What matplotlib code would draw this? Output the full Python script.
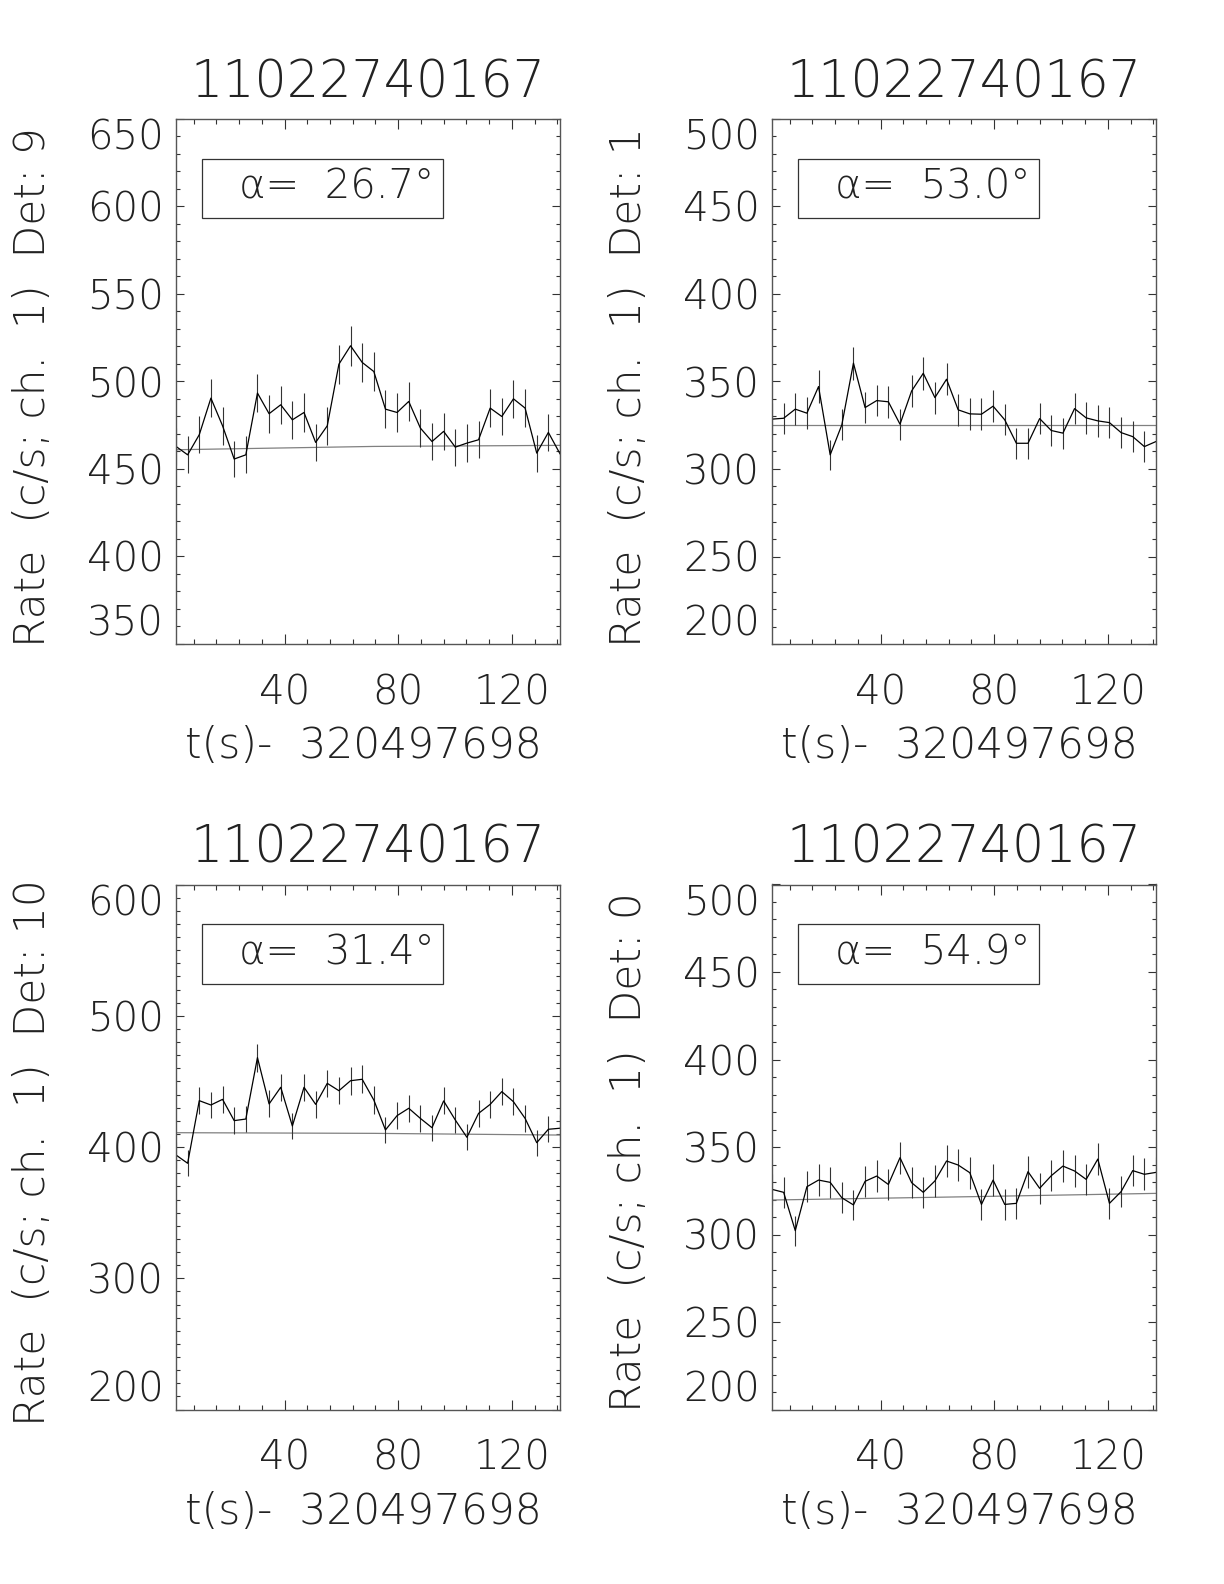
import numpy as np
import matplotlib
matplotlib.use('Agg')
import matplotlib.pyplot as plt
import matplotlib.ticker as ticker
from matplotlib.patches import Rectangle

plt.rcParams['font.family'] = ['DejaVu Sans']
plt.rcParams['font.weight'] = 200

# time bins (s) relative to 320497698
t0 = 1.8
dt = 4.096
nbin = 34

title = '11022740167'
xlabel_txt = 't(s)-  320497698'

dets = [9, 1, 10, 0]
alphas = [26.7, 53.0, 31.4, 54.9]

rate_d9 = [462.9, 458.1, 469.6, 490.5, 474.7, 455.7, 458.1, 493.4, 481.6, 486.7,
           478.1, 482.3, 465.2, 474.7, 509.9, 520.4, 510.9, 505.7, 484.2, 482.3,
           488.6, 473.4, 465.7, 471.5, 462.5, 464.8, 466.7, 484.8, 480.0, 490.1,
           484.8, 459.1, 470.9, 458.7]
err_d9 = [10.6, 10.6, 10.7, 10.9, 10.8, 10.5, 10.6, 11.0, 10.8, 10.9,
          10.8, 10.9, 10.7, 10.8, 11.2, 11.3, 11.2, 11.1, 10.9, 10.9,
          10.9, 10.8, 10.7, 10.7, 10.6, 10.7, 10.7, 10.9, 10.8, 10.9,
          10.9, 10.6, 10.7, 10.6]
bkg_d9 = [461.0, 462.9, 463.5]

rate_d1 = [328.5, 329.0, 334.2, 331.9, 347.1, 308.1, 325.2, 360.5, 335.1, 339.1,
           338.4, 325.6, 344.6, 354.7, 340.8, 351.3, 333.8, 331.5, 331.3, 335.9,
           328.1, 314.7, 314.7, 328.8, 322.0, 320.5, 334.5, 329.2, 327.5, 326.5,
           320.8, 318.5, 312.8, 315.7]
err_d1 = [8.95, 8.96, 9.03, 9.0, 9.2, 8.7, 8.9, 9.4, 9.05, 9.1,
          9.1, 8.9, 9.2, 9.3, 9.1, 9.25, 9.0, 9.0, 9.0, 9.05,
          8.95, 8.75, 8.75, 8.95, 8.85, 8.85, 9.05, 8.95, 8.95, 8.9,
          8.85, 8.8, 8.75, 8.8]
bkg_d1 = [325.2, 325.2, 325.2]

rate_d10 = [393.9, 387.6, 435.3, 432.0, 436.3, 420.1, 421.3, 468.1, 432.8, 445.5,
            416.0, 445.5, 432.5, 448.5, 442.9, 450.5, 451.6, 435.8, 413.0, 423.9,
            429.5, 421.8, 414.7, 435.1, 420.6, 407.4, 425.6, 432.5, 442.2, 434.5,
            421.8, 403.3, 413.5, 414.3]
err_d10 = [9.8, 9.75, 10.3, 10.25, 10.3, 10.1, 10.15, 10.7, 10.3, 10.4,
           10.1, 10.4, 10.3, 10.45, 10.4, 10.5, 10.5, 10.3, 10.05, 10.15,
           10.25, 10.15, 10.05, 10.3, 10.15, 9.95, 10.2, 10.3, 10.4, 10.3,
           10.15, 9.9, 10.05, 10.05]
bkg_d10 = [410.9, 410.4, 409.1]

rate_d0 = [325.8, 324.1, 302.2, 327.3, 331.1, 329.8, 321.0, 316.9, 330.4, 333.4,
           328.6, 343.9, 329.6, 324.1, 330.6, 342.0, 339.7, 335.3, 317.2, 331.1,
           317.2, 317.8, 335.9, 326.4, 333.6, 339.1, 336.3, 331.5, 343.1, 317.8,
           324.5, 336.5, 334.4, 335.5]
err_d0 = [8.9, 8.9, 8.6, 8.95, 9.0, 9.0, 8.85, 8.8, 9.0, 9.0,
          8.95, 9.15, 8.95, 8.9, 9.0, 9.15, 9.1, 9.05, 8.8, 9.0,
          8.8, 8.8, 9.05, 8.9, 9.0, 9.1, 9.05, 9.0, 9.15, 8.8,
          8.9, 9.05, 9.05, 9.05]
bkg_d0 = [319.7, 321.6, 323.5]

rates = [rate_d9, rate_d1, rate_d10, rate_d0]
errs = [err_d9, err_d1, err_d10, err_d0]
bkgs = [bkg_d9, bkg_d1, bkg_d10, bkg_d0]
ylims = [(350, 650), (200, 500), (200, 600), (200, 500)]
ysteps = [50, 50, 100, 50]

W, H = 1224, 1584
# axes boxes in pixels: left, top
boxes = [(176, 119), (772, 119), (176, 884.5), (772, 884.5)]
aw, ah = 384, 525

ink = '#222222'
fs = 29

fig = plt.figure(figsize=(W / 100, H / 100), dpi=100)
t = t0 + dt * np.arange(nbin)
tb = [t[0], t[nbin // 2], t[-1]]

for k in range(4):
    left, top = boxes[k]
    ax = fig.add_axes([left / W, (H - top - ah) / H, aw / W, ah / H])
    ax.plot(tb, bkgs[k], '-', color='#808080', lw=0.9)
    ax.errorbar(t, rates[k], yerr=errs[k], fmt='none', ecolor='#333333',
                elinewidth=0.8, capsize=0)
    ax.plot(t, rates[k], '-', color='black', lw=0.9)
    ax.set_xlim(t[0], t[-1])
    ax.set_ylim(*ylims[k])

    ax.xaxis.set_major_locator(ticker.FixedLocator([40, 80, 120]))
    ax.xaxis.set_minor_locator(ticker.MultipleLocator(8))
    lo, hi = ylims[k]
    ax.set_yticks(np.arange(lo, hi + 1, ysteps[k]))
    ax.yaxis.set_minor_locator(ticker.MultipleLocator(10))
    ax.tick_params(axis='both', which='both', direction='in', top=True,
                   right=True, color='#333333', width=0.8, labelsize=fs,
                   labelcolor=ink)
    ax.tick_params(axis='x', which='major', length=7.2, pad=21)
    ax.tick_params(axis='x', which='minor', length=3.6)
    ax.tick_params(axis='y', which='major', length=5.5, pad=9)
    ax.tick_params(axis='y', which='minor', length=2.8)
    for s in ax.spines.values():
        s.set_color('#555555')
        s.set_linewidth(1.0)

    ylab = ax.get_yticklabels()
    ylab[0].set_va('bottom')
    ylab[-1].set_va('top')

    ax.text(0.5, 1.069, title, transform=ax.transAxes, ha='center',
            va='center', fontsize=36.5, color=ink)
    ax.text(0.488, -0.194, xlabel_txt, transform=ax.transAxes, ha='center',
            va='center', fontsize=30.5, color=ink)
    ax.text(-0.374, 0.49, 'Rate  (c/s; ch.  1)  Det: %d' % dets[k],
            transform=ax.transAxes, rotation=90, ha='center', va='center',
            fontsize=30.5, color=ink)

    ax.add_patch(Rectangle((0.067, 0.811), 0.629, 0.113, transform=ax.transAxes,
                           fill=False, edgecolor='#333333', lw=0.9))
    ax.text(0.165, 0.870, 'α=  %.1f°' % alphas[k], transform=ax.transAxes,
            ha='left', va='center', fontsize=fs, color=ink)

fig.savefig('out.png', dpi=100)
